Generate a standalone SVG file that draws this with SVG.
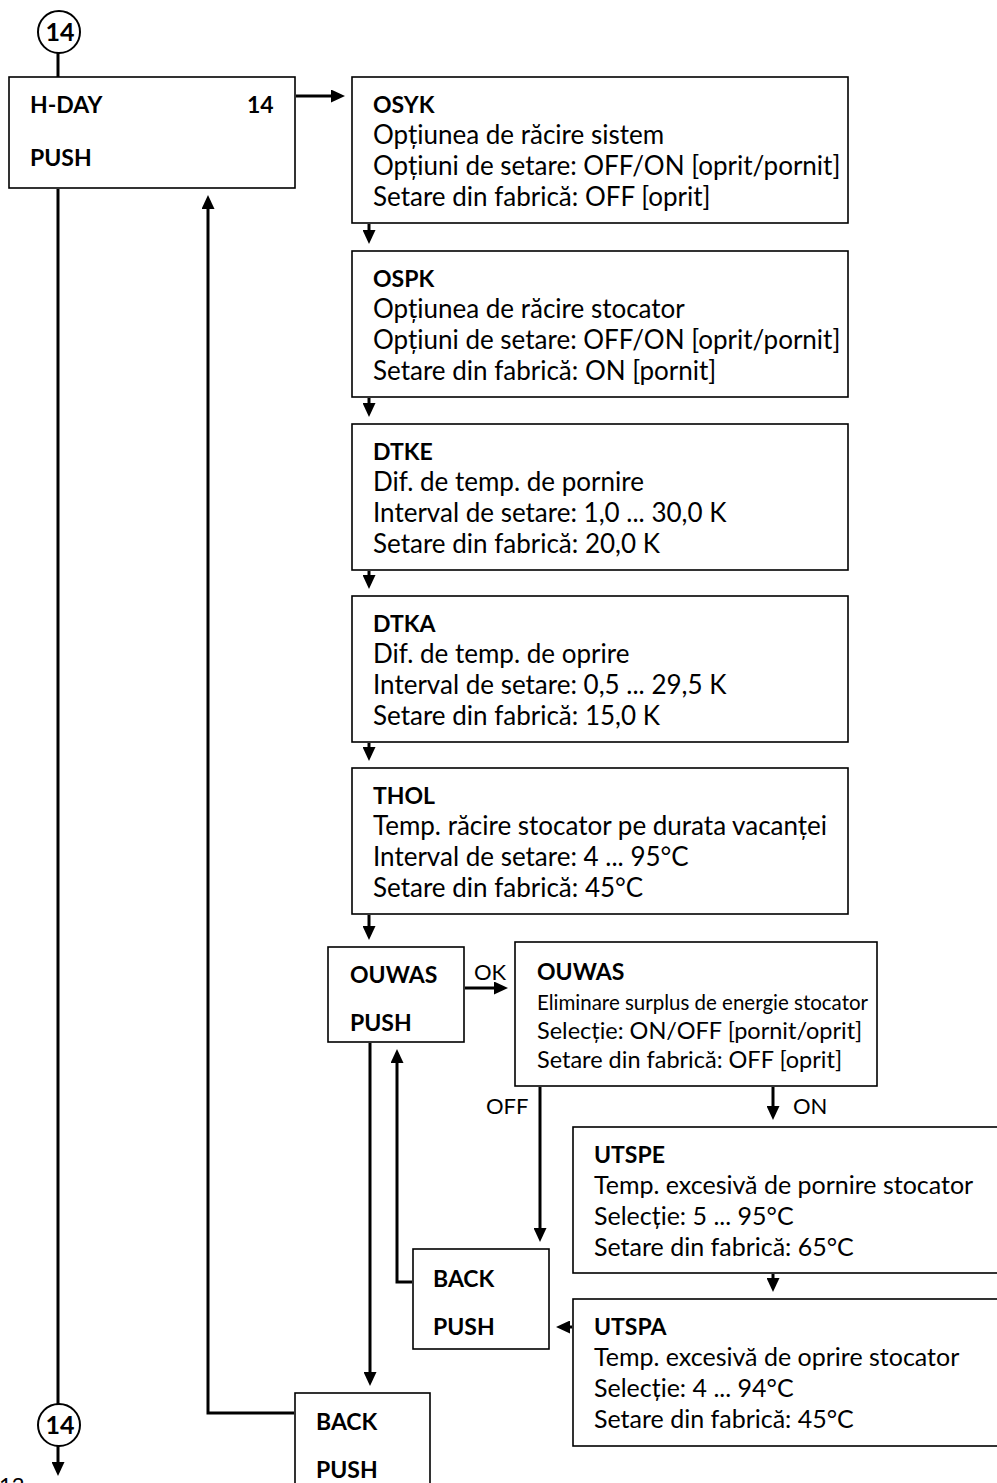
<svg xmlns="http://www.w3.org/2000/svg" width="997" height="1483" viewBox="0 0 997 1483">
<defs>
<style>
.box{fill:#fff;stroke:#000;stroke-width:1.6}
.t{font-family:Lato,"Liberation Sans",sans-serif;font-size:26px;fill:#000}
.s{font-family:Lato,"Liberation Sans",sans-serif;font-size:25px;fill:#000}
.m{font-family:Lato,"Liberation Sans",sans-serif;font-size:23.5px;fill:#000}
.l{font-family:Lato,"Liberation Sans",sans-serif;font-size:22px;fill:#000}
.b{font-family:Lato,"Liberation Sans",sans-serif;font-size:23px;font-weight:bold;fill:#000}
.cn{font-family:Lato,"Liberation Sans",sans-serif;font-size:25px;font-weight:bold;fill:#000}
.c{fill:none;stroke:#000;stroke-width:3}
.circ{fill:#fff;stroke:#000;stroke-width:2}
</style>
<marker id="ah" markerWidth="14" markerHeight="13" refX="7" refY="6.5" orient="auto" markerUnits="userSpaceOnUse">
<path d="M0,0 L14,6.5 L0,13 z" fill="#000"/>
</marker>
</defs>
<rect width="997" height="1483" fill="#fff"/>

<g id="conn-top">
<circle class="circ" cx="59" cy="32" r="21"/>
<text class="cn" x="60" y="41" text-anchor="middle">14</text>
</g>

<g id="conn-bottom">
<circle class="circ" cx="59" cy="1425" r="21"/>
<text class="cn" x="60" y="1434" text-anchor="middle">14</text>
</g>

<g id="hday">
<rect class="box" x="9" y="77" width="286" height="111"/>
<text class="b" x="30" y="113">H-DAY</text>
<text class="b" x="247" y="113">14</text>
<text class="b" x="30" y="166">PUSH</text>
</g>

<g id="osyk">
<rect class="box" x="352" y="77" width="496" height="146"/>
<text class="b" x="373" y="113">OSYK</text>
<text class="t" x="373" y="144">Opțiunea de răcire sistem</text>
<text class="t" x="373" y="175">Opțiuni de setare: OFF/ON [oprit/pornit]</text>
<text class="t" x="373" y="206">Setare din fabrică: OFF [oprit]</text>
</g>

<g id="ospk">
<rect class="box" x="352" y="251" width="496" height="146"/>
<text class="b" x="373" y="287">OSPK</text>
<text class="t" x="373" y="318">Opțiunea de răcire stocator</text>
<text class="t" x="373" y="349">Opțiuni de setare: OFF/ON [oprit/pornit]</text>
<text class="t" x="373" y="380">Setare din fabrică: ON [pornit]</text>
</g>

<g id="dtke">
<rect class="box" x="352" y="424" width="496" height="146"/>
<text class="b" x="373" y="460">DTKE</text>
<text class="t" x="373" y="491">Dif. de temp. de pornire</text>
<text class="t" x="373" y="522">Interval de setare: 1,0 ... 30,0 K</text>
<text class="t" x="373" y="553">Setare din fabrică: 20,0 K</text>
</g>

<g id="dtka">
<rect class="box" x="352" y="596" width="496" height="146"/>
<text class="b" x="373" y="632">DTKA</text>
<text class="t" x="373" y="663">Dif. de temp. de oprire</text>
<text class="t" x="373" y="694">Interval de setare: 0,5 ... 29,5 K</text>
<text class="t" x="373" y="725">Setare din fabrică: 15,0 K</text>
</g>

<g id="thol">
<rect class="box" x="352" y="768" width="496" height="146"/>
<text class="b" x="373" y="804">THOL</text>
<text class="t" x="373" y="835">Temp. răcire stocator pe durata vacanței</text>
<text class="t" x="373" y="866">Interval de setare: 4 ... 95°C</text>
<text class="t" x="373" y="897">Setare din fabrică: 45°C</text>
</g>

<g id="ouwas-push">
<rect class="box" x="328" y="947" width="136" height="95"/>
<text class="b" x="350" y="983">OUWAS</text>
<text class="b" x="350" y="1031">PUSH</text>
</g>

<g id="ouwas">
<rect class="box" x="515" y="942" width="362" height="144"/>
<text class="b" x="537" y="980">OUWAS</text>
<text class="m" x="537" y="1010" textLength="331" lengthAdjust="spacingAndGlyphs" style="font-size:22px">Eliminare surplus de energie stocator</text>
<text class="m" x="537" y="1039">Selecție: ON/OFF [pornit/oprit]</text>
<text class="m" x="537" y="1068">Setare din fabrică: OFF [oprit]</text>
</g>

<g id="utspe">
<rect class="box" x="573" y="1127" width="440" height="146"/>
<text class="b" x="594" y="1163">UTSPE</text>
<text class="s" x="594" y="1194">Temp. excesivă de pornire stocator</text>
<text class="s" x="594" y="1225">Selecție: 5 ... 95°C</text>
<text class="s" x="594" y="1256">Setare din fabrică: 65°C</text>
</g>

<g id="utspa">
<rect class="box" x="573" y="1299" width="440" height="147"/>
<text class="b" x="594" y="1335">UTSPA</text>
<text class="s" x="594" y="1366">Temp. excesivă de oprire stocator</text>
<text class="s" x="594" y="1397">Selecție: 4 ... 94°C</text>
<text class="s" x="594" y="1428">Setare din fabrică: 45°C</text>
</g>

<g id="back-inner">
<rect class="box" x="413" y="1249" width="136" height="100"/>
<text class="b" x="433" y="1287">BACK</text>
<text class="b" x="433" y="1335">PUSH</text>
</g>

<g id="back-outer">
<rect class="box" x="295" y="1393" width="135" height="120"/>
<text class="b" x="316" y="1430">BACK</text>
<text class="b" x="316" y="1478">PUSH</text>
</g>

<g id="connectors">
<line class="c" x1="58" y1="53" x2="58" y2="77"/>
<line class="c" x1="296" y1="96" x2="338" y2="96" marker-end="url(#ah)"/>
<line class="c" x1="369" y1="224" x2="369" y2="237" marker-end="url(#ah)"/>
<line class="c" x1="369" y1="398" x2="369" y2="410" marker-end="url(#ah)"/>
<line class="c" x1="369" y1="571" x2="369" y2="582" marker-end="url(#ah)"/>
<line class="c" x1="369" y1="743" x2="369" y2="754" marker-end="url(#ah)"/>
<line class="c" x1="369" y1="915" x2="369" y2="933" marker-end="url(#ah)"/>
<line class="c" x1="465" y1="988" x2="501" y2="988" marker-end="url(#ah)"/>
<line class="c" x1="540" y1="1087" x2="540" y2="1235" marker-end="url(#ah)"/>
<line class="c" x1="773" y1="1087" x2="773" y2="1113" marker-end="url(#ah)"/>
<line class="c" x1="773" y1="1274" x2="773" y2="1285" marker-end="url(#ah)"/>
<line class="c" x1="572" y1="1327" x2="563" y2="1327" marker-end="url(#ah)"/>
<path class="c" d="M412,1282 H397 V1056" marker-end="url(#ah)"/>
<line class="c" x1="370" y1="1043" x2="370" y2="1379" marker-end="url(#ah)"/>
<path class="c" d="M294,1413 H208 V202" marker-end="url(#ah)"/>
<line class="c" x1="58" y1="189" x2="58" y2="1404"/>
<line class="c" x1="58" y1="1446" x2="58" y2="1469" marker-end="url(#ah)"/>
<text class="l" x="474" y="980">OK</text>
<text class="l" x="486" y="1114">OFF</text>
<text class="l" x="793" y="1114">ON</text>
</g>

<text class="l" x="-1" y="1493">12</text>
</svg>
